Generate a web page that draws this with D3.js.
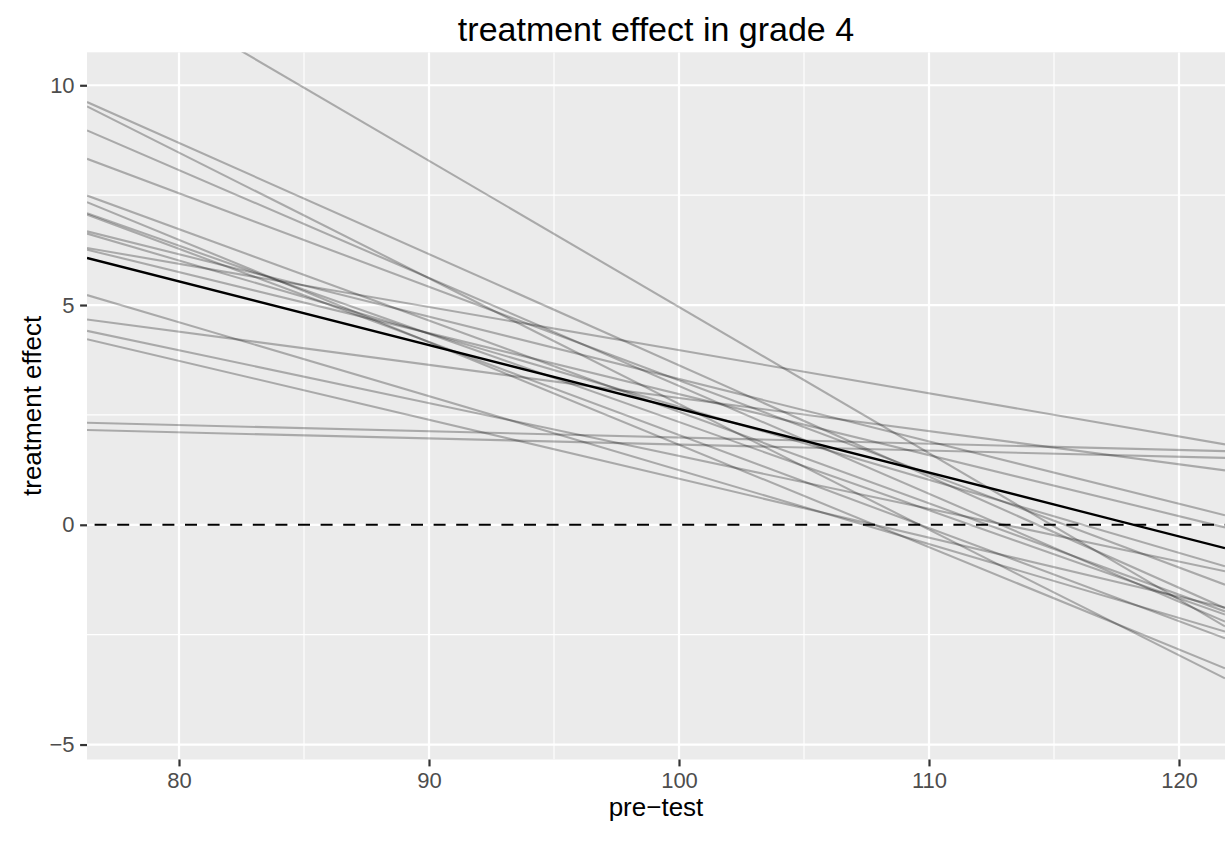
<!DOCTYPE html>
<html>
<head>
<meta charset="utf-8">
<script src="https://cdn.jsdelivr.net/npm/d3@7"></script>
<style>
  html, body { margin: 0; padding: 0; background: #fff; }
  svg { display: block; }
  text { font-family: "Liberation Sans", Arial, Helvetica, sans-serif; }
</style>
</head>
<body>
<svg id="chart" width="1225" height="847"></svg>
<script>
// ---- data ----
const chartTitle = "treatment effect in grade 4";
const xTitle = "pre\u2212test";
const yTitle = "treatment effect";
const xTicks = [80, 90, 100, 110, 120];
const xMinor = [75, 85, 95, 105, 115, 125];
const yTicks = [-5, 0, 5, 10];
const yMinor = [-7.5, -2.5, 2.5, 7.5];
const xDomain = [76.32, 121.84];
const yDomain = [-5.34, 10.75];
// simulated treatment-effect lines: effect at pre-test 100 and slope per point
const simEffectAt100 = [3.628, 2.750, 3.161, 3.286, 2.568, 1.822, 2.338, 2.043, 3.317, 2.687,
                        3.974, 2.973, 1.244, 2.885, 1.567, 1.048, 1.986, 1.826, 4.955];
const simSlope = [-0.2530, -0.2859, -0.2455, -0.2129, -0.2079, -0.2330, -0.2006, -0.2118, -0.1419, -0.1663,
                  -0.0982, -0.1388, -0.1682, -0.0754, -0.1202, -0.1341, -0.0142, -0.0139, -0.3327];
const meanEffectAt100 = 2.637;
const meanSlope = -0.1450;
const referenceLevel = 0;

// ---- layout ----
const W = 1225, H = 847;
const panel = { left: 87, right: 1225, top: 52.3, bottom: 759.5 };
const svg = d3.select("#chart");
const x = d3.scaleLinear().domain(xDomain).range([panel.left, panel.right]);
const y = d3.scaleLinear().domain(yDomain).range([panel.bottom, panel.top]);

svg.append("rect").attr("width", W).attr("height", H).attr("fill", "#fff");
svg.append("defs").append("clipPath").attr("id", "clip")
  .append("rect").attr("x", panel.left).attr("y", panel.top)
  .attr("width", panel.right - panel.left).attr("height", panel.bottom - panel.top);

svg.append("rect").attr("x", panel.left).attr("y", panel.top)
  .attr("width", panel.right - panel.left).attr("height", panel.bottom - panel.top)
  .attr("fill", "#EBEBEB");

const grid = svg.append("g").attr("clip-path", "url(#clip)");
grid.selectAll(".xminor").data(xMinor).join("line")
  .attr("x1", d => x(d)).attr("x2", d => x(d)).attr("y1", panel.top).attr("y2", panel.bottom)
  .attr("stroke", "#fff").attr("stroke-width", 1.1);
grid.selectAll(".yminor").data(yMinor).join("line")
  .attr("y1", d => y(d)).attr("y2", d => y(d)).attr("x1", panel.left).attr("x2", panel.right)
  .attr("stroke", "#fff").attr("stroke-width", 1.1);
grid.selectAll(".xmajor").data(xTicks).join("line")
  .attr("x1", d => x(d)).attr("x2", d => x(d)).attr("y1", panel.top).attr("y2", panel.bottom)
  .attr("stroke", "#fff").attr("stroke-width", 2.2);
grid.selectAll(".ymajor").data(yTicks).join("line")
  .attr("y1", d => y(d)).attr("y2", d => y(d)).attr("x1", panel.left).attr("x2", panel.right)
  .attr("stroke", "#fff").attr("stroke-width", 2.2);

// ---- lines ----
const plot = svg.append("g").attr("clip-path", "url(#clip)");
const lineGen = d3.line().x(d => x(d[0])).y(d => y(d[1]));
const sims = simEffectAt100.map((a, i) => xDomain.map(p => [p, a + simSlope[i] * (p - 100)]));
plot.selectAll(".sim").data(sims).join("path")
  .attr("d", lineGen).attr("fill", "none")
  .attr("stroke", "#000").attr("stroke-opacity", 0.28).attr("stroke-width", 2.1);

plot.append("path")
  .datum(xDomain.map(p => [p, referenceLevel]))
  .attr("d", lineGen).attr("fill", "none")
  .attr("stroke", "#000").attr("stroke-width", 2.1)
  .attr("stroke-dasharray", "12,10.6").attr("stroke-dashoffset", 15);

plot.append("path")
  .datum(xDomain.map(p => [p, meanEffectAt100 + meanSlope * (p - 100)]))
  .attr("d", lineGen).attr("fill", "none")
  .attr("stroke", "#000").attr("stroke-width", 2.3);

// ---- axes ----
const tickColor = "#333333", labelColor = "#4D4D4D";
const xAxis = svg.append("g").attr("transform", `translate(0,${panel.bottom})`)
  .call(d3.axisBottom(x).tickValues(xTicks).tickSize(6.9).tickPadding(5.5).tickFormat(d3.format("d")));
const yAxis = svg.append("g").attr("transform", `translate(${panel.left},0)`)
  .call(d3.axisLeft(y).tickValues(yTicks).tickSize(6.9).tickPadding(5.5)
        .tickFormat(d => d < 0 ? "\u2212" + Math.abs(d) : String(d)));
[xAxis, yAxis].forEach(a => {
  a.select(".domain").remove();
  a.selectAll(".tick line").attr("stroke", tickColor).attr("stroke-width", 2.2);
  a.selectAll(".tick text").attr("fill", labelColor).style("font-size", "22px")
    .style("font-family", "'Liberation Sans', Arial, sans-serif");
});

svg.append("text").attr("x", (panel.left + panel.right) / 2).attr("y", 816)
  .attr("text-anchor", "middle").style("font-size", "26px").attr("fill", "#000").text(xTitle);
svg.append("text").attr("transform", `translate(41,${(panel.top + panel.bottom) / 2}) rotate(-90)`)
  .attr("text-anchor", "middle").style("font-size", "26px").attr("fill", "#000").text(yTitle);
svg.append("text").attr("x", (panel.left + panel.right) / 2).attr("y", 41)
  .attr("text-anchor", "middle").style("font-size", "34px").attr("fill", "#000").text(chartTitle);
</script>
</body>
</html>
